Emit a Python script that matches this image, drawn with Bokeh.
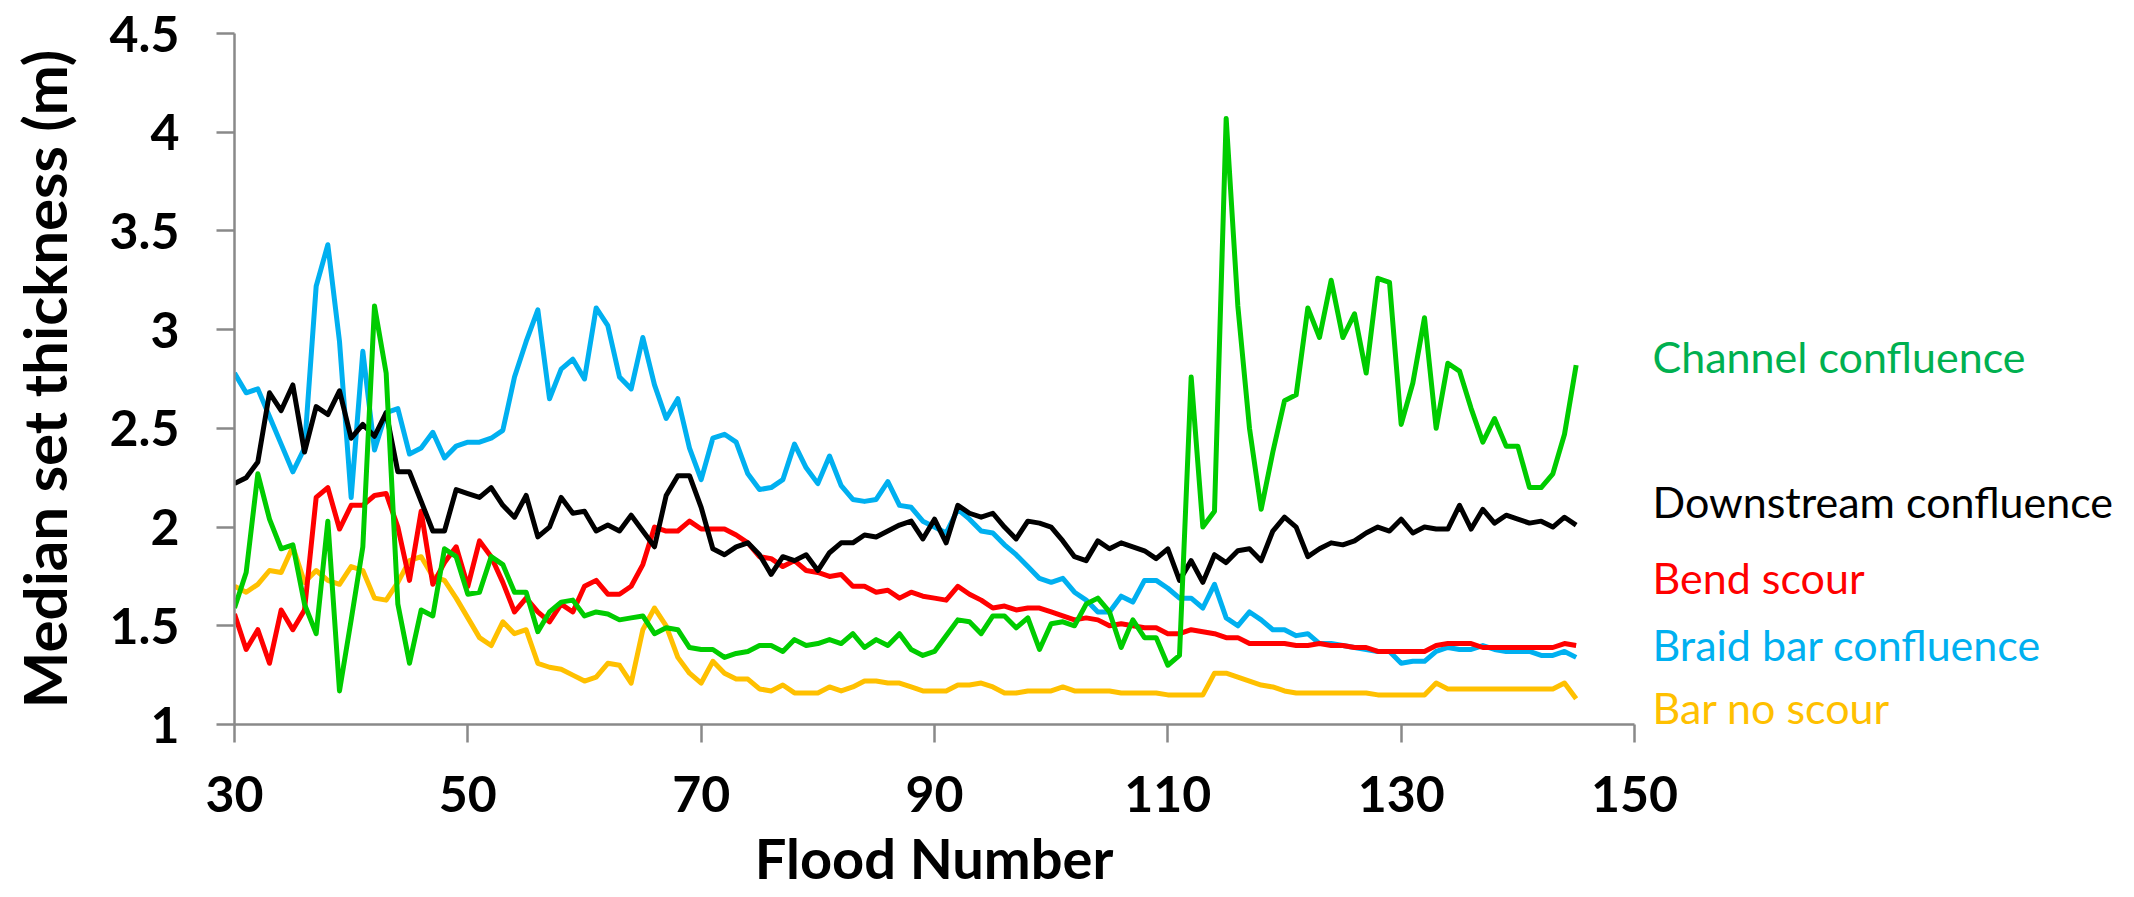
from bokeh.plotting import figure
from bokeh.models import Range1d, FixedTicker, Title, ColumnDataSource
from bokeh.core.properties import value
from bokeh.embed import file_html
from bokeh.resources import INLINE

floods = list(range(30, 146))

channel_confluence = [
    1.59, 1.77, 2.27, 2.04, 1.89, 1.91, 1.61, 1.46, 2.03, 1.17, 1.53, 1.90, 3.12, 2.78, 1.61, 1.31, 1.58, 1.55, 1.89, 1.85, 1.66,
    1.67, 1.85, 1.81, 1.67, 1.67, 1.47, 1.57, 1.62, 1.63, 1.55, 1.57, 1.56, 1.53, 1.54, 1.55, 1.46, 1.49, 1.48, 1.39, 1.38,
    1.38, 1.34, 1.36, 1.37, 1.40, 1.40, 1.37, 1.43, 1.40, 1.41, 1.43, 1.41, 1.46, 1.39, 1.43, 1.40, 1.46, 1.38, 1.35, 1.37,
    1.45, 1.53, 1.52, 1.46, 1.55, 1.55, 1.49, 1.54, 1.38, 1.51, 1.52, 1.50, 1.61, 1.64, 1.57, 1.39, 1.53, 1.44, 1.44, 1.30,
    1.35, 2.76, 2.00, 2.08, 4.07, 3.12, 2.50, 2.09, 2.38, 2.64, 2.67, 3.11, 2.96, 3.25, 2.96, 3.08, 2.78, 3.26, 3.24, 2.52,
    2.73, 3.06, 2.50, 2.83, 2.79, 2.60, 2.43, 2.55, 2.41, 2.41, 2.20, 2.20, 2.27, 2.47, 2.82,
]

downstream_confluence = [
    2.22, 2.25, 2.33, 2.68, 2.59, 2.72, 2.38, 2.61, 2.57, 2.69, 2.45, 2.52, 2.46, 2.58, 2.28, 2.28, 2.13, 1.98, 1.98, 2.19, 2.17,
    2.15, 2.20, 2.11, 2.05, 2.16, 1.95, 2.00, 2.15, 2.07, 2.08, 1.98, 2.01, 1.98, 2.06, 1.98, 1.90, 2.16, 2.26, 2.26, 2.10,
    1.89, 1.86, 1.90, 1.92, 1.86, 1.76, 1.85, 1.83, 1.86, 1.78, 1.87, 1.92, 1.92, 1.96, 1.95, 1.98, 2.01, 2.03, 1.94, 2.04,
    1.92, 2.11, 2.07, 2.05, 2.07, 2.00, 1.94, 2.03, 2.02, 2.00, 1.93, 1.85, 1.83, 1.93, 1.89, 1.92, 1.90, 1.88, 1.84, 1.89,
    1.73, 1.83, 1.72, 1.86, 1.82, 1.88, 1.89, 1.83, 1.98, 2.05, 2.00, 1.85, 1.89, 1.92, 1.91, 1.93, 1.97, 2.00, 1.98, 2.04,
    1.97, 2.00, 1.99, 1.99, 2.11, 1.99, 2.09, 2.02, 2.06, 2.04, 2.02, 2.03, 2.00, 2.05, 2.01,
]

bend_scour = [
    1.56, 1.38, 1.48, 1.31, 1.58, 1.48, 1.58, 2.15, 2.20, 1.99, 2.11, 2.11, 2.16, 2.17, 2.00, 1.73, 2.08, 1.71, 1.82, 1.90, 1.70,
    1.93, 1.85, 1.72, 1.57, 1.64, 1.57, 1.52, 1.61, 1.57, 1.70, 1.73, 1.66, 1.66, 1.70, 1.81, 2.00, 1.98, 1.98, 2.03, 1.99,
    1.99, 1.99, 1.96, 1.92, 1.85, 1.84, 1.80, 1.83, 1.78, 1.77, 1.75, 1.76, 1.70, 1.70, 1.67, 1.68, 1.64, 1.67, 1.65, 1.64,
    1.63, 1.70, 1.66, 1.63, 1.59, 1.60, 1.58, 1.59, 1.59, 1.57, 1.55, 1.53, 1.54, 1.53, 1.50, 1.51, 1.50, 1.49, 1.49, 1.46,
    1.46, 1.48, 1.47, 1.46, 1.44, 1.44, 1.41, 1.41, 1.41, 1.41, 1.40, 1.40, 1.41, 1.40, 1.40, 1.39, 1.39, 1.37, 1.37, 1.37,
    1.37, 1.37, 1.40, 1.41, 1.41, 1.41, 1.39, 1.39, 1.39, 1.39, 1.39, 1.39, 1.39, 1.41, 1.40,
]

braid_bar_confluence = [
    2.78, 2.68, 2.70, 2.56, 2.42, 2.28, 2.40, 3.22, 3.43, 2.94, 2.15, 2.89, 2.39, 2.58, 2.60, 2.37, 2.40, 2.48, 2.35, 2.41, 2.43,
    2.43, 2.45, 2.49, 2.76, 2.94, 3.10, 2.65, 2.80, 2.85, 2.75, 3.11, 3.02, 2.76, 2.70, 2.96, 2.72, 2.55, 2.65, 2.40, 2.24,
    2.45, 2.47, 2.43, 2.27, 2.19, 2.20, 2.24, 2.42, 2.30, 2.22, 2.36, 2.21, 2.14, 2.13, 2.14, 2.23, 2.11, 2.10, 2.03, 2.00,
    1.97, 2.09, 2.04, 1.98, 1.97, 1.91, 1.86, 1.80, 1.74, 1.72, 1.74, 1.67, 1.63, 1.57, 1.57, 1.65, 1.62, 1.73, 1.73, 1.69,
    1.64, 1.64, 1.59, 1.71, 1.54, 1.50, 1.57, 1.53, 1.48, 1.48, 1.45, 1.46, 1.41, 1.41, 1.40, 1.39, 1.38, 1.37, 1.37, 1.31,
    1.32, 1.32, 1.37, 1.39, 1.38, 1.38, 1.40, 1.38, 1.37, 1.37, 1.37, 1.35, 1.35, 1.37, 1.34,
]

bar_no_scour = [
    1.70, 1.67, 1.71, 1.78, 1.77, 1.90, 1.72, 1.78, 1.73, 1.71, 1.80, 1.78, 1.64, 1.63, 1.72, 1.83, 1.85, 1.75, 1.73, 1.64, 1.54,
    1.44, 1.40, 1.52, 1.46, 1.48, 1.31, 1.29, 1.28, 1.25, 1.22, 1.24, 1.31, 1.30, 1.21, 1.48, 1.59, 1.50, 1.34, 1.26, 1.21,
    1.32, 1.26, 1.23, 1.23, 1.18, 1.17, 1.20, 1.16, 1.16, 1.16, 1.19, 1.17, 1.19, 1.22, 1.22, 1.21, 1.21, 1.19, 1.17, 1.17,
    1.17, 1.20, 1.20, 1.21, 1.19, 1.16, 1.16, 1.17, 1.17, 1.17, 1.19, 1.17, 1.17, 1.17, 1.17, 1.16, 1.16, 1.16, 1.16, 1.15,
    1.15, 1.15, 1.15, 1.26, 1.26, 1.24, 1.22, 1.20, 1.19, 1.17, 1.16, 1.16, 1.16, 1.16, 1.16, 1.16, 1.16, 1.15, 1.15, 1.15,
    1.15, 1.15, 1.21, 1.18, 1.18, 1.18, 1.18, 1.18, 1.18, 1.18, 1.18, 1.18, 1.18, 1.21, 1.13,
]

series_names = ["Channel confluence", "Downstream confluence", "Bend scour",
                "Braid bar confluence", "Bar no scour"]
x_ticks = [30, 50, 70, 90, 110, 130, 150]
y_ticks = [1, 1.5, 2, 2.5, 3, 3.5, 4, 4.5]
x_min, x_max = 30, 150
y_min, y_max = 1, 4.5

# layout (pixels inside the figure canvas)
W, H = 2134, 897
frame_left, frame_right_axis = 234, 1634   # pixel where x=30 and x=150 fall
frame_top, frame_bottom = 33, 726
px_per_unit = (frame_right_axis - frame_left) / (x_max - x_min)
py_per_unit = (frame_bottom - frame_top) / (y_max - y_min)
x_end = x_min + (W - frame_left) / px_per_unit

p = figure(width=W, height=H, output_backend="svg", toolbar_location=None,
           x_range=Range1d(x_min, x_end), y_range=Range1d(y_min, y_max),
           min_border_left=frame_left, min_border_right=0,
           min_border_top=frame_top, min_border_bottom=H - frame_bottom)
p.outline_line_color = None
p.grid.visible = False
p.background_fill_color = "white"
p.border_fill_color = "white"

axis_grey = "#898989"
for ax in (p.xaxis[0], p.yaxis[0]):
    ax.axis_line_color = axis_grey
    ax.axis_line_width = 2.5
    ax.major_tick_line_color = axis_grey
    ax.major_tick_line_width = 2.5
    ax.major_tick_out = 18
    ax.major_tick_in = 0
    ax.minor_tick_line_color = None
    ax.major_label_text_font = "Lato"
    ax.major_label_text_font_style = "bold"
    ax.major_label_text_font_size = "50px"
    ax.major_label_text_color = "black"
    ax.axis_label_text_font = "Lato"
    ax.axis_label_text_font_style = "bold"
    ax.axis_label_text_color = "black"

p.xaxis.bounds = (x_min, x_max)
p.xaxis.ticker = FixedTicker(ticks=x_ticks)
p.yaxis.ticker = FixedTicker(ticks=y_ticks)
p.yaxis.major_label_overrides = {t: f"{t:g}" for t in y_ticks}
p.xaxis.major_label_standoff = 33
p.yaxis.major_label_standoff = 37
p.yaxis.axis_label = "Median set thickness (m)"
p.yaxis.axis_label_text_font_size = "60px"
p.yaxis.axis_label_standoff = 27

# x-axis title centred under the 30-150 span
x_title = "Flood Number"
title_font_px = 56
title_width_est = 6.42 * title_font_px
title_center = (frame_left + frame_right_axis) / 2
p.add_layout(Title(text=x_title, align="left", text_font="Lato",
                   text_font_style="bold", text_font_size=f"{title_font_px}px",
                   text_color="black",
                   offset=title_center - frame_left - title_width_est / 2,
                   standoff=14), "below")

line_colors = {
    "Channel confluence": "#00CC00",
    "Downstream confluence": "#000000",
    "Bend scour": "#FF0000",
    "Braid bar confluence": "#00B0F0",
    "Bar no scour": "#FFC000",
}
text_colors = {
    "Channel confluence": "#00B050",
    "Downstream confluence": "#000000",
    "Bend scour": "#FF0000",
    "Braid bar confluence": "#00B0F0",
    "Bar no scour": "#FFC000",
}
values = {
    "Channel confluence": channel_confluence,
    "Downstream confluence": downstream_confluence,
    "Bend scour": bend_scour,
    "Braid bar confluence": braid_bar_confluence,
    "Bar no scour": bar_no_scour,
}

for name in ["Bar no scour", "Braid bar confluence", "Bend scour",
             "Downstream confluence", "Channel confluence"]:
    p.line(floods, values[name], line_color=line_colors[name], line_width=5,
           line_join="round")

# label vertical centres, in canvas pixels from the top
label_center_px = {
    "Channel confluence": 357,
    "Downstream confluence": 502,
    "Bend scour": 579,
    "Braid bar confluence": 646,
    "Bar no scour": 709,
}
label_x = x_min + (1652 - frame_left) / px_per_unit
src = ColumnDataSource(dict(
    x=[label_x] * len(series_names),
    y=[y_min + (frame_bottom - label_center_px[n]) / py_per_unit for n in series_names],
    text=series_names,
    color=[text_colors[n] for n in series_names],
))
p.text(x="x", y="y", text="text", text_color="color", source=src,
       text_font=value("Lato"), text_font_size="43px",
       text_baseline="middle", text_align="left")

open("out.html", "w").write(file_html(p, INLINE))
